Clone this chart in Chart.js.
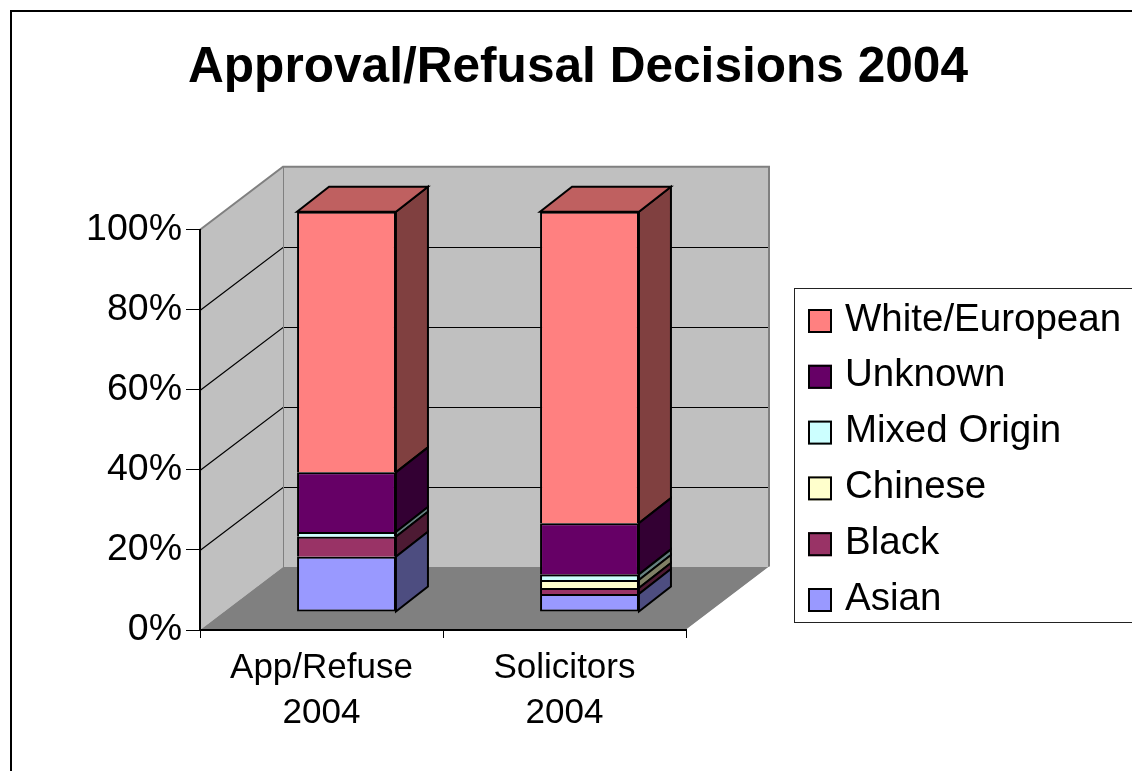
<!DOCTYPE html>
<html>
<head>
<meta charset="utf-8">
<script src="https://cdn.jsdelivr.net/npm/chart.js@4/dist/chart.umd.min.js"></script>
<style>
  html, body { margin: 0; padding: 0; background: #ffffff; overflow: hidden; }
  #wrap { width: 1132px; height: 771px; }
</style>
</head>
<body>
<div id="wrap"><canvas id="c" width="1132" height="771"></canvas></div>
<script>
// ---------------- data ----------------
const TITLE = 'Approval/Refusal Decisions 2004';
const categories = [['App/Refuse', '2004'], ['Solicitors', '2004']];
const seriesNames = ['Asian', 'Black', 'Chinese', 'Mixed Origin', 'Unknown', 'White/European'];
const asian         = [13.8, 4.5];
const black         = [5.0, 1.5];
const chinese       = [0.0, 2.0];
const mixedOrigin   = [1.2, 1.4];
const unknown       = [14.9, 12.8];
const whiteEuropean = [65.1, 77.8];
const yTicks = [0, 20, 40, 60, 80, 100];
const seriesColors = ['#9999FF', '#993366', '#FFFFCC', '#CCFFFF', '#660066', '#FF8080'];

// ---------------- style ----------------
const FONT = '"Liberation Sans", Arial, Helvetica, sans-serif';
const WALL_DX = 83, WALL_DY = -63;      // depth of the 3D walls
const BAR_FX = 25, BAR_FY = -18;        // bar front plane offset
const BAR_DX = 32, BAR_DY = -25;        // bar depth
Chart.defaults.font.family = FONT;

function shade(hex, f) {
  const n = parseInt(hex.slice(1), 16);
  const r = (n >> 16) & 255, g = (n >> 8) & 255, b = n & 255;
  return 'rgb(' + Math.round(r * f) + ',' + Math.round(g * f) + ',' + Math.round(b * f) + ')';
}
function poly(ctx, pts) {
  ctx.beginPath();
  ctx.moveTo(pts[0][0], pts[0][1]);
  for (let i = 1; i < pts.length; i++) ctx.lineTo(pts[i][0], pts[i][1]);
  ctx.closePath();
}

const seriesData = [asian, black, chinese, mixedOrigin, unknown, whiteEuropean];

// background, frame, walls, floor and wall gridlines
const backdrop = {
  id: 'backdrop',
  beforeDraw(chart) {
    const ctx = chart.ctx;
    const xs = chart.scales.x, ys = chart.scales.y;
    ctx.save();
    ctx.fillStyle = '#ffffff';
    ctx.fillRect(0, 0, chart.width, chart.height);
    ctx.strokeStyle = '#000000';
    ctx.lineWidth = 2;
    ctx.strokeRect(11, 11, chart.width + 20, chart.height + 20);

    const L = xs.left, R = xs.right;
    const B = ys.getPixelForValue(yTicks[0]);
    const T = ys.getPixelForValue(yTicks[yTicks.length - 1]);
    // back wall
    ctx.fillStyle = '#C0C0C0';
    ctx.fillRect(L + WALL_DX, T + WALL_DY, R - L, B - T);
    // side wall
    poly(ctx, [[L, B], [L, T], [L + WALL_DX, T + WALL_DY], [L + WALL_DX, B + WALL_DY]]);
    ctx.fill();
    // floor
    ctx.fillStyle = '#808080';
    poly(ctx, [[L, B], [R, B], [R + WALL_DX, B + WALL_DY], [L + WALL_DX, B + WALL_DY]]);
    ctx.fill();
    // gridlines
    ctx.strokeStyle = '#000000';
    ctx.lineWidth = 1.2;
    yTicks.forEach(v => {
      if (v <= yTicks[0] || v >= yTicks[yTicks.length - 1]) return;
      const p = Math.round(ys.getPixelForValue(v)) + 0.5;
      ctx.beginPath();
      ctx.moveTo(L, p);
      ctx.lineTo(L + WALL_DX, p + WALL_DY);
      ctx.lineTo(R + WALL_DX, p + WALL_DY);
      ctx.stroke();
    });
    // wall outlines
    ctx.strokeStyle = '#808080';
    ctx.lineWidth = 2;
    ctx.beginPath();
    ctx.moveTo(L, T);
    ctx.lineTo(L + WALL_DX, T + WALL_DY);
    ctx.lineTo(R + WALL_DX, T + WALL_DY);
    ctx.lineTo(R + WALL_DX, B + WALL_DY);
    ctx.stroke();
    ctx.lineWidth = 1;
    ctx.beginPath();
    ctx.moveTo(L + WALL_DX + 0.5, T + WALL_DY);
    ctx.lineTo(L + WALL_DX + 0.5, B + WALL_DY);
    ctx.stroke();
    // floor side edge
    ctx.strokeStyle = '#ffffff';
    ctx.lineWidth = 2;
    ctx.beginPath();
    ctx.moveTo(R + 1, B);
    ctx.lineTo(R + WALL_DX + 1, B + WALL_DY);
    ctx.stroke();
    ctx.restore();
  }
};

// 3D bars: front face drawn by Chart.js in the shifted plane, side and top faces added here
const bars3d = {
  id: 'bars3d',
  beforeDatasetDraw(chart) {
    chart.ctx.save();
    chart.ctx.translate(BAR_FX, BAR_FY);
  },
  afterDatasetDraw(chart, args) {
    const ctx = chart.ctx;
    const di = args.index;
    const ds = chart.data.datasets[di];
    args.meta.data.forEach((el, j) => {
      const p = el.getProps(['x', 'y', 'base', 'width'], true);
      const l = p.x - p.width / 2, r = p.x + p.width / 2;
      const t = Math.min(p.y, p.base), b = Math.max(p.y, p.base);
      if (b - t < 0.5) return;
      ctx.lineWidth = 2;
      ctx.lineJoin = 'miter';
      ctx.strokeStyle = '#000000';
      // side face
      ctx.fillStyle = shade(ds.backgroundColor, 0.5);
      poly(ctx, [[r, b], [r, t], [r + BAR_DX, t + BAR_DY], [r + BAR_DX, b + BAR_DY]]);
      ctx.fill();
      ctx.stroke();
      // top face only on the top of each stack
      let isTop = true;
      for (let k = di + 1; k < chart.data.datasets.length; k++) {
        if (chart.data.datasets[k].data[j] > 0) { isTop = false; break; }
      }
      if (isTop) {
        ctx.fillStyle = shade(ds.backgroundColor, 0.75);
        poly(ctx, [[l, t], [r, t], [r + BAR_DX, t + BAR_DY], [l + BAR_DX, t + BAR_DY]]);
        ctx.fill();
        ctx.stroke();
      }
    });
    ctx.restore();
  }
};

// legend placed in its own layout box on the right
const legendBox = {
  id: 'legendBox',
  beforeInit(chart) {
    if (chart.$legendBox) return;
    const box = {
      position: 'right', weight: 100, fullSize: false, options: {},
      isHorizontal() { return false; },
      getPadding() { return { left: 0, top: 0, right: 0, bottom: 0 }; },
      update(maxW, maxH) { this.width = 446; this.height = maxH; },
      draw() {
        const ctx = chart.ctx;
        const x0 = this.left;
        ctx.save();
        ctx.strokeStyle = '#222222';
        ctx.lineWidth = 1;
        ctx.strokeRect(x0 + 108.5, 288.5, 420, 334);
        const items = chart.data.datasets.map(d => ({ text: d.label, color: d.backgroundColor })).reverse();
        ctx.font = '38.5px ' + FONT;
        ctx.textBaseline = 'middle';
        ctx.textAlign = 'left';
        items.forEach((it, k) => {
          const cy = 321 + k * 55.8;
          ctx.fillStyle = it.color;
          ctx.fillRect(x0 + 122, cy - 12, 24, 24);
          ctx.strokeStyle = '#000000';
          ctx.lineWidth = 2;
          ctx.strokeRect(x0 + 123, cy - 11, 22, 22);
          ctx.fillStyle = '#000000';
          ctx.fillText(it.text, x0 + 159, cy - 1);
        });
        ctx.restore();
      }
    };
    Chart.layouts.addBox(chart, box);
    chart.$legendBox = box;
  }
};

new Chart(document.getElementById('c'), {
  type: 'bar',
  data: {
    labels: categories,
    datasets: seriesNames.map((name, i) => ({
      label: name,
      data: seriesData[i],
      backgroundColor: seriesColors[i],
      borderColor: '#000000',
      borderWidth: 2,
      borderSkipped: i === 0 ? false : 'start',
      inflateAmount: 0,
      barPercentage: 1,
      categoryPercentage: 0.407,
      clip: false
    }))
  },
  options: {
    responsive: false,
    animation: false,
    devicePixelRatio: 1,
    events: [],
    layout: { padding: { left: 24, right: 0, top: 10, bottom: 0 } },
    plugins: {
      legend: { display: false },
      tooltip: { enabled: false },
      title: {
        display: true,
        text: TITLE,
        color: '#000000',
        font: { family: FONT, size: 49.6, weight: 'bold', lineHeight: 1.2 },
        padding: { top: 29, bottom: 131.3 }
      }
    },
    scales: {
      x: {
        stacked: true,
        grid: { offset: true, drawOnChartArea: false, drawTicks: true, tickLength: 8, color: '#000000', lineWidth: 1 },
        border: { display: true, color: '#000000', width: 2 },
        ticks: { color: '#000000', font: { family: FONT, size: 35, lineHeight: 1.286 }, padding: 8, maxRotation: 0, autoSkip: false },
        afterFit(s) { s.height = 141; }
      },
      y: {
        stacked: true,
        min: yTicks[0],
        max: yTicks[yTicks.length - 1],
        afterBuildTicks(s) { s.ticks = yTicks.map(v => ({ value: v })); },
        ticks: { color: '#000000', font: { family: FONT, size: 37.5 }, padding: 4, callback: v => v + '%' },
        grid: { drawOnChartArea: false, tickLength: 14, color: '#000000', lineWidth: 1 },
        border: { display: true, color: '#000000', width: 2 },
        afterFit(s) { s.width = 176; }
      }
    }
  },
  plugins: [backdrop, bars3d, legendBox]
});
</script>
</body>
</html>
